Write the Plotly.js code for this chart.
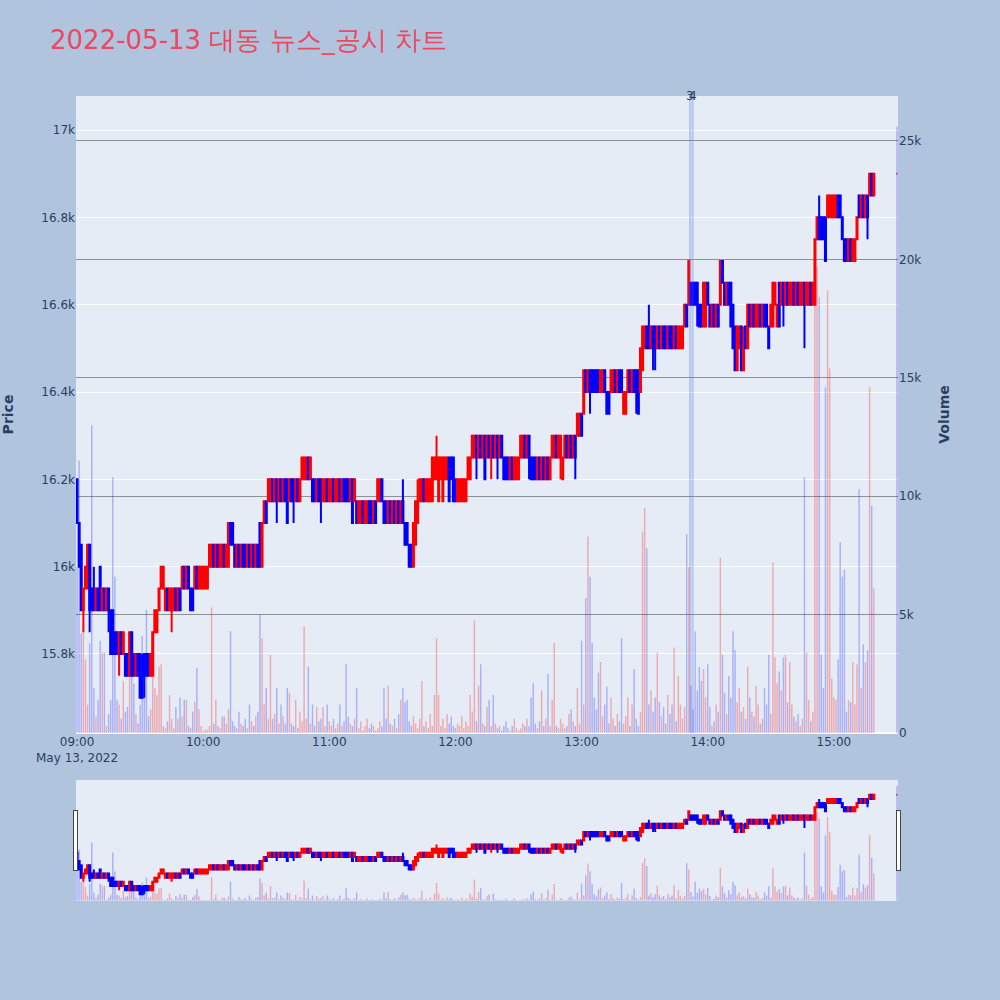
<!DOCTYPE html>
<html>
<head>
<meta charset="utf-8">
<script src="https://cdn.plot.ly/plotly-3.0.1.min.js"></script>
<style>html,body{margin:0;padding:0;background:#B0C4DE;} #chart{width:1000px;height:1000px;}</style>
</head>
<body>
<div id="chart"></div>
<script>
// 1-minute candles 09:00 .. 15:19, then closing auction 15:30
const openP = [
16200,16100,16050,15900,15950,15950,16050,15950,15950,15900,
15950,16000,15900,15950,15900,15950,15900,15900,15850,15850,
15800,15850,15800,15800,15800,15750,15850,15800,15750,15800,
15800,15750,15800,15800,15800,15750,15750,15850,15850,15900,
15950,15950,15900,15950,15900,15900,15900,15950,15900,15950,
15950,16000,15950,16000,15950,15950,15950,16000,15950,15950,
15950,15950,15950,16000,16000,16050,16000,16050,16000,16000,
16050,16000,16000,16100,16100,16050,16000,16050,16000,16050,
16050,16000,16050,16000,16050,16000,16050,16100,16000,16100,
16150,16150,16150,16200,16150,16200,16150,16200,16150,16200,
16200,16150,16200,16200,16150,16200,16150,16200,16200,16200,
16250,16200,16200,16200,16150,16200,16200,16150,16150,16200,
16150,16150,16200,16150,16150,16200,16150,16200,16200,16200,
16150,16200,16150,16150,16100,16100,16150,16100,16100,16150,
16150,16100,16150,16150,16150,16200,16150,16150,16100,16150,
16100,16150,16100,16150,16100,16150,16100,16100,16050,16050,
16000,16050,16100,16150,16150,16200,16150,16150,16150,16150,
16200,16200,16150,16200,16150,16200,16200,16250,16250,16250,
16200,16150,16150,16150,16150,16150,16200,16200,16250,16250,
16300,16250,16300,16250,16300,16250,16300,16250,16300,16250,
16300,16250,16300,16250,16250,16250,16200,16250,16200,16200,
16200,16250,16250,16300,16250,16300,16250,16250,16250,16200,
16250,16200,16250,16200,16250,16200,16250,16250,16300,16250,
16250,16200,16250,16300,16250,16300,16250,16300,16300,16300,
16350,16350,16450,16400,16450,16450,16450,16450,16450,16400,
16400,16450,16400,16400,16400,16400,16450,16400,16450,16450,
16350,16350,16400,16450,16400,16450,16450,16450,16400,16450,
16500,16550,16550,16500,16550,16550,16500,16550,16500,16550,
16550,16500,16550,16550,16500,16550,16500,16500,16500,16550,
16600,16600,16650,16650,16650,16650,16600,16600,16550,16550,
16650,16600,16550,16600,16550,16600,16600,16700,16650,16600,
16650,16650,16600,16550,16450,16500,16550,16450,16550,16500,
16600,16550,16600,16550,16550,16600,16550,16600,16600,16550,
16550,16550,16600,16550,16650,16600,16650,16600,16650,16600,
16600,16650,16600,16650,16600,16600,16650,16600,16600,16650,
16600,16600,16750,16800,16800,16800,16800,16800,16800,16800,
16800,16800,16850,16850,16800,16750,16750,16700,16750,16700,
16700,16750,16850,16800,16850,16800,16850,16850,16900,16850,
16900];
const highP = [
16200,16100,16050,15950,16000,16050,16050,15950,16000,15950,
15950,16000,15950,15950,15950,15950,15900,15900,15850,15850,
15850,15850,15850,15800,15800,15850,15850,15800,15800,15800,
15800,15800,15800,15800,15800,15800,15850,15900,15900,15950,
16000,16000,15950,15950,15950,15950,15950,15950,15950,15950,
16000,16000,16000,16000,15950,15950,16000,16000,16000,16000,
16000,16000,16000,16050,16050,16050,16050,16050,16050,16050,
16050,16050,16100,16100,16100,16050,16050,16050,16050,16050,
16050,16050,16050,16050,16050,16050,16050,16100,16100,16150,
16150,16200,16200,16200,16200,16200,16200,16200,16200,16200,
16200,16200,16200,16200,16200,16200,16200,16250,16250,16250,
16250,16250,16200,16200,16200,16200,16200,16200,16200,16200,
16200,16200,16200,16200,16200,16200,16200,16200,16200,16200,
16200,16200,16200,16150,16150,16150,16150,16150,16150,16150,
16150,16150,16150,16200,16200,16200,16150,16150,16150,16150,
16150,16150,16150,16150,16150,16200,16100,16100,16050,16050,
16100,16150,16200,16200,16200,16200,16200,16200,16200,16250,
16250,16300,16250,16250,16250,16250,16250,16250,16250,16250,
16200,16200,16200,16200,16200,16200,16250,16250,16300,16300,
16300,16300,16300,16300,16300,16300,16300,16300,16300,16300,
16300,16300,16300,16250,16250,16250,16250,16250,16250,16250,
16250,16300,16300,16300,16300,16300,16250,16250,16250,16250,
16250,16250,16250,16250,16250,16250,16300,16300,16300,16300,
16300,16250,16300,16300,16300,16300,16300,16300,16350,16350,
16350,16450,16450,16450,16450,16450,16450,16450,16450,16450,
16450,16450,16400,16400,16450,16450,16450,16450,16450,16450,
16400,16400,16450,16450,16450,16450,16450,16450,16500,16550,
16550,16550,16600,16550,16550,16550,16550,16550,16550,16550,
16550,16550,16550,16550,16550,16550,16550,16550,16550,16600,
16600,16700,16650,16650,16650,16650,16600,16600,16650,16650,
16650,16600,16600,16600,16600,16600,16700,16700,16650,16650,
16650,16650,16600,16550,16550,16550,16550,16550,16550,16600,
16600,16600,16600,16600,16600,16600,16600,16600,16600,16550,
16600,16650,16650,16600,16650,16650,16650,16650,16650,16650,
16650,16650,16650,16650,16650,16650,16650,16650,16650,16650,
16650,16750,16800,16850,16800,16800,16800,16850,16850,16850,
16850,16850,16850,16850,16800,16750,16750,16750,16750,16750,
16750,16800,16850,16850,16850,16850,16850,16900,16900,16900,
16900];
const lowP = [
16100,16000,15900,15850,15950,15950,15850,15900,15900,15900,
15900,15900,15900,15900,15900,15850,15800,15800,15800,15800,
15750,15800,15800,15750,15750,15750,15750,15750,15750,15750,
15700,15700,15700,15750,15750,15750,15750,15850,15850,15900,
15950,15950,15900,15900,15900,15850,15900,15900,15900,15900,
15950,15950,15950,15950,15900,15900,15950,15950,15950,15950,
15950,15950,15950,16000,16000,16000,16000,16000,16000,16000,
16000,16000,16000,16050,16050,16000,16000,16000,16000,16000,
16000,16000,16000,16000,16000,16000,16000,16000,16000,16100,
16100,16150,16150,16150,16150,16100,16150,16150,16150,16150,
16100,16150,16150,16100,16150,16150,16150,16200,16200,16200,
16200,16200,16150,16150,16150,16150,16100,16150,16150,16150,
16150,16150,16150,16150,16150,16150,16150,16150,16150,16150,
16150,16100,16150,16100,16100,16100,16100,16100,16100,16100,
16100,16100,16100,16150,16150,16150,16100,16100,16100,16100,
16100,16100,16100,16100,16100,16100,16050,16050,16000,16000,
16000,16050,16100,16150,16150,16150,16150,16150,16150,16150,
16200,16200,16150,16200,16150,16200,16200,16150,16200,16150,
16150,16150,16150,16150,16150,16150,16200,16200,16250,16250,
16200,16250,16250,16250,16200,16250,16250,16200,16250,16250,
16200,16250,16250,16200,16200,16200,16200,16200,16200,16200,
16200,16250,16250,16250,16250,16200,16200,16200,16200,16200,
16200,16200,16200,16200,16200,16200,16250,16250,16250,16250,
16200,16200,16250,16250,16250,16250,16250,16200,16300,16300,
16300,16350,16400,16400,16350,16400,16400,16400,16400,16400,
16400,16400,16350,16350,16400,16400,16400,16400,16400,16400,
16350,16350,16400,16400,16400,16400,16350,16350,16400,16450,
16500,16500,16500,16500,16450,16450,16500,16500,16500,16500,
16500,16500,16500,16500,16500,16500,16500,16500,16500,16550,
16550,16600,16600,16600,16600,16550,16550,16550,16550,16550,
16600,16550,16550,16550,16550,16550,16600,16650,16600,16600,
16600,16550,16500,16450,16450,16500,16450,16450,16500,16500,
16550,16550,16550,16550,16550,16550,16550,16550,16550,16500,
16550,16550,16600,16550,16550,16600,16550,16600,16600,16600,
16600,16600,16600,16600,16600,16600,16500,16600,16600,16600,
16600,16600,16750,16750,16750,16750,16700,16800,16800,16800,
16800,16800,16800,16800,16750,16700,16700,16700,16700,16700,
16700,16750,16800,16800,16800,16800,16750,16850,16850,16850,
16900];
const closeP = [
16100,16000,15900,15950,16000,16050,15900,15900,15900,15950,
15900,15900,15950,15900,15950,15900,15800,15800,15800,15800,
15850,15800,15850,15750,15750,15850,15750,15750,15800,15750,
15700,15700,15750,15750,15750,15800,15850,15900,15900,15950,
16000,16000,15950,15900,15950,15950,15950,15900,15950,15900,
16000,15950,16000,15950,15900,15900,16000,15950,16000,16000,
16000,16000,16000,16050,16050,16000,16050,16000,16050,16050,
16000,16050,16100,16050,16050,16000,16050,16000,16050,16000,
16000,16050,16000,16050,16000,16050,16000,16000,16100,16150,
16100,16200,16200,16150,16200,16150,16200,16150,16200,16150,
16100,16200,16150,16150,16200,16150,16200,16250,16250,16250,
16200,16250,16150,16150,16200,16150,16150,16200,16200,16150,
16200,16200,16150,16200,16200,16150,16200,16150,16150,16150,
16200,16100,16200,16100,16150,16150,16100,16150,16150,16100,
16100,16150,16100,16200,16200,16150,16100,16100,16150,16100,
16150,16100,16150,16100,16150,16100,16050,16050,16000,16000,
16100,16150,16150,16200,16200,16150,16200,16200,16200,16250,
16250,16250,16250,16250,16250,16250,16250,16150,16200,16150,
16150,16200,16200,16200,16200,16200,16250,16250,16300,16300,
16250,16300,16250,16300,16200,16300,16250,16300,16250,16300,
16250,16300,16250,16200,16200,16200,16250,16200,16250,16250,
16250,16300,16300,16250,16300,16250,16200,16200,16200,16250,
16200,16250,16200,16250,16200,16250,16300,16300,16250,16300,
16300,16250,16300,16250,16300,16250,16300,16250,16350,16350,
16300,16450,16400,16450,16400,16400,16400,16400,16400,16450,
16450,16400,16350,16350,16450,16450,16400,16450,16400,16400,
16400,16400,16450,16400,16450,16400,16400,16350,16500,16550,
16550,16500,16500,16550,16500,16500,16550,16500,16550,16500,
16500,16550,16500,16500,16550,16500,16550,16550,16550,16600,
16550,16700,16600,16600,16600,16600,16550,16550,16650,16650,
16600,16550,16600,16550,16600,16550,16700,16650,16600,16650,
16600,16550,16500,16450,16550,16550,16450,16500,16500,16600,
16550,16600,16550,16600,16600,16550,16600,16550,16550,16500,
16600,16650,16650,16600,16550,16650,16600,16650,16600,16650,
16650,16600,16650,16600,16650,16650,16600,16650,16650,16600,
16650,16750,16800,16750,16750,16750,16700,16850,16850,16850,
16850,16850,16800,16800,16750,16700,16700,16750,16700,16750,
16750,16800,16800,16850,16800,16850,16800,16900,16850,16900,
16900];
const volume = [
7000,11500,4200,4300,3100,1200,3800,13000,1900,700,
1400,3900,3400,3400,300,800,1400,10800,6600,1400,
1200,600,2200,900,1100,4100,4000,2100,800,400,
1200,4100,1500,5200,700,1000,4000,1900,1600,2800,
2900,300,200,500,1600,600,200,1100,600,1500,
700,1400,1400,300,200,900,1300,2750,1000,300,
100,150,150,300,5300,400,1400,300,200,700,
700,400,1000,4300,500,300,200,900,400,300,
600,200,1200,500,300,700,900,5000,4000,1200,
1900,600,3300,600,800,1900,400,1200,700,400,
1900,1700,400,300,1400,200,900,500,4500,600,
2800,400,1200,300,1100,500,600,1100,300,1200,
500,300,600,200,400,1200,300,500,2900,700,
400,300,600,1900,200,500,100,300,600,200,
400,300,100,200,500,300,1900,600,2000,400,
300,600,200,800,1400,1900,1300,1400,500,300,
700,400,200,600,2200,300,500,200,800,300,
1600,4000,1600,300,600,200,800,400,700,300,
200,400,300,700,200,500,300,1600,900,4750,
500,2000,2900,400,300,1100,1400,300,1600,400,
200,300,100,300,500,200,100,300,600,200,
100,200,400,300,600,300,1500,2100,400,200,
500,1800,300,600,2500,300,1400,3800,300,200,
600,400,200,300,800,1000,500,300,1900,400,
3900,1200,5700,8300,6600,3800,1500,1000,2550,3000,
700,1200,1950,400,1500,600,300,800,500,4000,
400,700,1500,300,1200,2700,600,300,900,8500,
9500,7800,1200,1800,900,1500,3400,1300,700,1100,
400,1600,800,1200,3600,500,2400,1200,600,1100,
8400,7000,2000,1000,4300,1800,2800,2200,2700,1500,
2900,1100,300,500,1200,900,7400,3300,1700,800,
2400,1500,4300,3500,1300,1900,900,1100,600,2800,
1500,900,700,2000,1200,400,600,1900,1200,3300,
800,7200,3200,2100,2600,1800,3200,3300,1300,3000,
1200,700,500,800,300,600,10800,3400,1400,500,
900,19800,19700,18400,3300,1900,14600,18700,15400,2300,
1500,1400,3100,8050,6600,6900,900,1400,1300,3000,
1200,2900,10300,1900,3750,3000,3500,14600,9600,6100,
25600];

const sessionDate = '2022-05-13';
const sessionStartHour = 9;
const closingAuction = '15:30';
const newsLabels = ['3', '4'];
const newsTimes = ['13:51:36', '13:52:48'];
const chartTitle = '2022-05-13 대동 뉴스_공시 차트';

// minute timestamps for the continuous session, then the closing auction
const times = [];
for (let i = 0; i < openP.length - 1; i++) {
  const h = sessionStartHour + Math.floor(i / 60);
  const mi = i % 60;
  times.push(sessionDate + ' ' + String(h).padStart(2, '0') + ':' + String(mi).padStart(2, '0') + ':00');
}
times.push(sessionDate + ' ' + closingAuction + ':00');

const volColors = closeP.map((c, i) => c > openP[i] ? 'rgba(255,0,0,0.28)' : 'rgba(0,0,255,0.25)');

const candle = {
  type: 'candlestick', x: times, open: openP, high: highP, low: lowP, close: closeP,
  xaxis: 'x', yaxis: 'y', name: 'Price',
  increasing: {line: {color: 'red'}, fillcolor: 'red'},
  decreasing: {line: {color: 'blue'}, fillcolor: 'blue'},
  showlegend: false
};
const bars = {
  type: 'bar', x: times, y: volume, xaxis: 'x', yaxis: 'y2', name: 'Volume',
  marker: {color: volColors, line: {width: 0}},
  showlegend: false
};

const shapes = newsTimes.map(t => ({
  type: 'line', xref: 'x', yref: 'paper',
  x0: sessionDate + ' ' + t, x1: sessionDate + ' ' + t, y0: 0, y1: 1,
  line: {color: 'rgba(65,105,225,0.3)', width: 2}
}));
const annotations = newsTimes.map((t, i) => ({
  x: sessionDate + ' ' + t, xref: 'x', y: 1, yref: 'paper',
  text: newsLabels[i], showarrow: false, xanchor: 'center', yanchor: 'middle',
  font: {size: 12, color: '#2a3f5f'}
}));

const layout = {
  width: 1000, height: 1000,
  paper_bgcolor: '#B0C4DE', plot_bgcolor: '#E5ECF6',
  font: {family: 'DejaVu Sans, Verdana, sans-serif', size: 12, color: '#2a3f5f'},
  title: {text: chartTitle, font: {size: 26, color: 'rgb(236,72,98)'},
          x: 0.05, xanchor: 'left', y: 0.96, yanchor: 'middle'},
  margin: {l: 76, r: 102, t: 96, b: 100},
  showlegend: false,
  xaxis: {
    type: 'date',
    range: [sessionDate + ' 08:59:30', sessionDate + ' 15:30:30'],
    dtick: 3600000, showgrid: false, zeroline: false,
    rangeslider: {visible: true, thickness: 0.15, yaxis: {rangemode: 'match'}, yaxis2: {rangemode: 'match'}}
  },
  yaxis: {
    title: {text: '<b>Price</b>', font: {size: 14}, standoff: 32},
    range: [15619, 17078], gridcolor: 'white', zeroline: false
  },
  yaxis2: {
    title: {text: '<b>Volume</b>', font: {size: 14}, standoff: 18},
    overlaying: 'y', side: 'right', range: [0, 26900],
    showgrid: true, gridcolor: 'rgba(128,128,128,0.85)', zeroline: true, zerolinecolor: 'white', zerolinewidth: 2
  },
  bargap: 0.3,
  shapes: shapes,
  annotations: annotations
};

Plotly.newPlot('chart', [bars, candle], layout, {displayModeBar: false});
</script>
</body>
</html>
